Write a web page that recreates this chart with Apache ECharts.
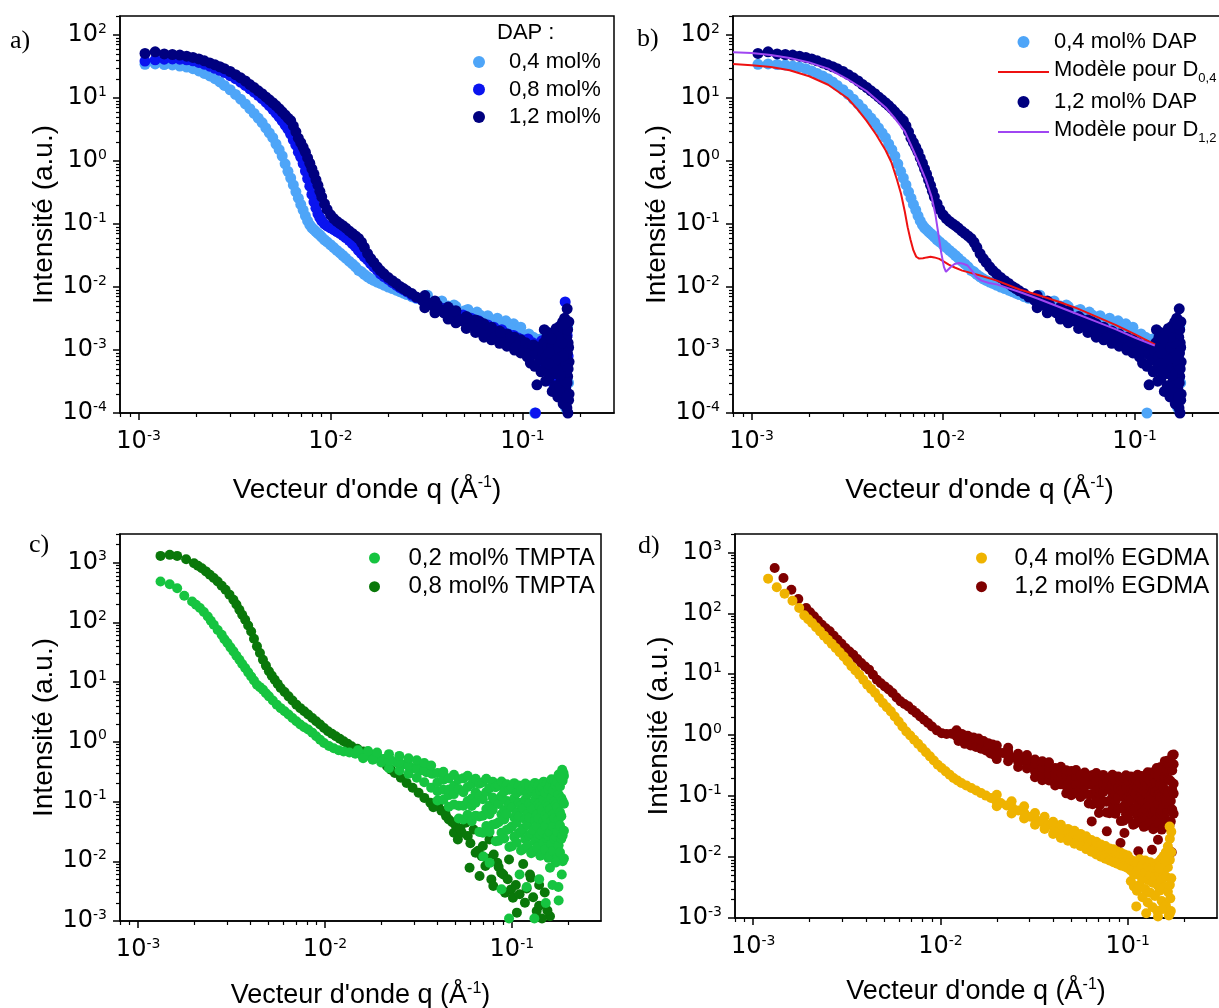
<!DOCTYPE html>
<html><head><meta charset="utf-8">
<script src="https://cdn.jsdelivr.net/npm/echarts@6/dist/echarts.min.js"></script>
<style>html,body{margin:0;padding:0;background:#fff}#c{width:1219px;height:1008px}</style>
</head><body><div id="c"></div>
<script>
// ---------- Panel a / b : DAP ----------
const qA = [1.08e-3,1.22e-3,1.36e-3,1.50e-3,1.64e-3,1.78e-3,1.92e-3,2.06e-3,2.2e-3,2.35e-3,2.5e-3,2.65e-3,2.8e-3,3.0e-3,3.2e-3,3.4e-3,3.6e-3,3.8e-3,4.0e-3,4.2e-3,4.4e-3,4.6e-3,4.8e-3,5.0e-3,5.2e-3,5.4e-3,5.6e-3,5.8e-3,6.0e-3,6.2e-3,6.4e-3,6.6e-3,6.8e-3,7.0e-3,7.2e-3,7.4e-3,7.6e-3,7.8e-3,8.0e-3,8.2e-3,8.4e-3,8.6e-3,8.8e-3,9.0e-3,9.3e-3,9.6e-3,0.0100,0.0104,0.0108,0.0112,0.0116,0.0120,0.0125,0.0130,0.0135,0.0140,0.0145,0.0150,0.0156,0.0162,0.0168,0.0175,0.0182,0.0190,0.0200,0.0210,0.0220,0.0230,0.0240,0.0250,0.0265,0.0280,0.0300,0.0320,0.0340,0.0360,0.0380,0.0400,0.0430,0.0460,0.0500,0.0540,0.0580,0.0620,0.0660,0.0700,0.0750,0.0800,0.0850,0.0900,0.0950,0.1000];
const iA04 = [34.2,34.7,34.0,33.4,32.1,30.9,29.2,26.9,24.5,22.4,20.2,18.0,15.8,13.5,11.4,9.55,8.04,6.76,5.69,4.79,4.07,3.35,2.79,2.34,1.86,1.51,1.20,0.90,0.684,0.537,0.417,0.324,0.257,0.204,0.166,0.135,0.112,0.0966,0.0871,0.0813,0.0759,0.0708,0.0668,0.0617,0.0562,0.0519,0.0468,0.0422,0.038,0.0347,0.0316,0.0288,0.0257,0.0232,0.0209,0.0184,0.0174,0.0158,0.0145,0.0135,0.0127,0.012,0.0114,0.0107,0.01,0.00944,0.00891,0.00841,0.00798,0.00759,0.00703,0.00661,0.00617,0.00575,0.00537,0.00507,0.00479,0.00452,0.00422,0.00394,0.00363,0.00331,0.00309,0.00288,0.00269,0.00257,0.0024,0.00224,0.00211,0.002,0.00191,0.0018];
const iA08 = [38.5,40.3,41.2,41.7,41.2,40.3,38.9,36.7,34.4,32.0,29.5,27.5,25.4,22.6,20.2,17.8,15.8,14.0,12.4,11.0,9.77,8.61,7.59,6.61,5.75,5.01,4.32,3.72,3.2,2.66,2.16,1.78,1.38,1.15,0.912,0.692,0.525,0.398,0.295,0.224,0.178,0.145,0.126,0.112,0.1,0.0933,0.0871,0.0813,0.0759,0.0708,0.0661,0.061,0.055,0.049,0.0437,0.038,0.0339,0.0302,0.0269,0.0234,0.0209,0.0186,0.0162,0.0146,0.0132,0.0117,0.0107,0.00977,0.00912,0.00841,0.00741,0.00676,0.00617,0.00562,0.00525,0.0049,0.00457,0.00427,0.00389,0.00355,0.00324,0.00295,0.00269,0.00251,0.00234,0.00219,0.002,0.00186,0.00174,0.00166,0.00155,0.00145];
const iA12 = [51,54,50,49,48,46,44,41.7,38.9,36,33.6,31.3,29.2,26.3,23.4,20.9,18.6,16.3,14.6,13.0,11.7,10.4,9.33,8.4,7.59,6.76,6.03,5.37,4.79,4.37,3.6,2.9,2.3,1.95,1.65,1.38,1.12,0.92,0.75,0.62,0.5,0.41,0.33,0.27,0.21,0.17,0.14,0.122,0.11,0.101,0.094,0.0865,0.0776,0.0708,0.0646,0.0589,0.0513,0.0427,0.0339,0.0282,0.0245,0.0209,0.0182,0.0162,0.0141,0.0126,0.0114,0.0102,0.00944,0.00871,0.00785,0.00692,0.00617,0.00562,0.00513,0.00468,0.00427,0.00398,0.00355,0.00324,0.00282,0.00257,0.00229,0.00209,0.00191,0.00178,0.00162,0.00148,0.00138,0.00129,0.0012,0.00112];
const noiseA04 = [[0.032,0.0074],[0.038,0.006],[0.044,0.0052],[0.052,0.0044],[0.058,0.004],[0.066,0.0035],[0.074,0.0032],[0.082,0.0029],[0.09,0.0026],[0.098,0.0023],[0.037,0.0057],[0.041,0.005],[0.045,0.0049],[0.05,0.0042],[0.055,0.0038],[0.06,0.0036],[0.065,0.003],[0.07,0.0029],[0.075,0.0027],[0.08,0.0023],[0.086,0.0022],[0.091,0.0019],[0.096,0.0018],[0.102,0.0017],[0.105,0.0014],[0.108,0.0018],[0.111,0.0012],[0.114,0.0016],[0.116,0.0001],[0.118,0.0013],[0.121,0.0009],[0.124,0.0015],[0.127,0.0011],[0.13,0.0007],[0.133,0.0013],[0.136,0.0009],[0.139,0.0011],[0.142,0.00045],[0.145,0.0008],[0.148,0.0012],[0.151,0.00025],[0.154,0.0006],[0.157,0.0014],[0.16,0.00035],[0.163,0.0009],[0.166,0.0018],[0.168,0.00012],[0.17,0.0006],[0.172,0.0024],[0.174,0.0003]];
const noiseA08 = [[0.038,0.0046],[0.043,0.0042],[0.049,0.0036],[0.054,0.0032],[0.059,0.0029],[0.066,0.0025],[0.071,0.0023],[0.078,0.0021],[0.084,0.0018],[0.09,0.0017],[0.095,0.0015],[0.101,0.0014],[0.104,0.0011],[0.107,0.0015],[0.11,0.00085],[0.113,0.0013],[0.116,0.0009],[0.117,0.0001],[0.12,0.0012],[0.123,0.0008],[0.126,0.0014],[0.129,0.0006],[0.132,0.001],[0.135,0.0005],[0.138,0.0013],[0.141,0.0008],[0.144,0.0003],[0.147,0.0011],[0.15,0.0016],[0.153,0.0004],[0.156,0.0009],[0.159,0.0021],[0.162,0.0006],[0.165,0.0013],[0.167,0.0058],[0.169,0.0003],[0.171,0.0017],[0.173,0.0008]];
const noiseA12 = [[0.031,0.0073],[0.031,0.0047],[0.035,0.006],[0.035,0.0039],[0.041,0.0048],[0.041,0.0031],[0.045,0.0042],[0.045,0.0027],[0.051,0.0034],[0.051,0.0022],[0.057,0.003],[0.057,0.0019],[0.063,0.0026],[0.063,0.0016],[0.069,0.0023],[0.069,0.00145],[0.076,0.002],[0.076,0.00128],[0.083,0.0018],[0.083,0.00115],[0.091,0.0016],[0.091,0.001],[0.098,0.00145],[0.098,0.0009],
[0.036,0.0052],[0.039,0.0039],[0.044,0.0041],[0.047,0.0029],[0.052,0.0032],[0.056,0.0024],[0.06,0.0028],[0.064,0.0019],[0.068,0.0022],[0.072,0.0016],[0.077,0.0019],[0.082,0.0013],[0.087,0.0016],[0.092,0.0011],[0.097,0.0013],[0.102,0.00095],[0.104,0.0013],[0.106,0.00078],[0.108,0.0011],[0.11,0.00062],[0.112,0.00098],[0.114,0.0012],[0.116,0.00055],[0.118,0.00085],[0.119,0.00028],[0.121,0.0011],[0.123,0.0007],[0.125,0.00045],[0.127,0.00095],[0.129,0.0013],[0.131,0.00052],[0.133,0.00078],[0.135,0.0011],[0.137,0.00035],[0.139,0.0015],[0.141,0.00065],[0.143,0.00022],[0.145,0.0009],[0.147,0.0019],[0.149,0.00042],[0.151,0.0012],[0.153,0.00018],[0.155,0.0007],[0.157,0.0024],[0.159,0.00032],[0.161,0.001],[0.163,0.00014],[0.165,0.0016],[0.166,0.0032],[0.167,0.00055],[0.168,0.00025],[0.169,0.0021],[0.17,0.00085],[0.171,0.0045],[0.172,0.00038],[0.173,0.0013],[0.174,0.00016],[0.175,0.00065],[0.1745,0.0028],[0.1725,0.0001],[0.1705,0.00012],[0.164,0.0004],[0.16,0.0019],[0.156,0.0012],[0.152,0.00055],[0.146,0.0014],[0.142,0.0011],[0.138,0.0009],[0.134,0.0016],[0.158,0.00075],[0.162,0.0028],[0.168,0.0012],
[0.13,0.0021],[0.132,0.00032],[0.136,0.0019],[0.14,0.0004],[0.144,0.0017],[0.148,0.00027],[0.15,0.0022],[0.154,0.0011],[0.156,0.00026],[0.158,0.0016],[0.16,0.0005],[0.162,0.00021],[0.164,0.0022],[0.165,0.00075],[0.166,0.00033],[0.167,0.0014],[0.168,0.0006],[0.169,0.00045],[0.17,0.0016],[0.171,0.0003],[0.172,0.0021],[0.173,0.0005],[0.174,0.0011],[0.175,0.0002],[0.1715,0.0009],[0.1695,0.00018],[0.1665,0.0026],[0.1635,0.0008],[0.1605,0.0013],[0.1575,0.0004],[0.1535,0.0016],[0.1495,0.0007],[0.1455,0.0005],[0.1415,0.0015],[0.1375,0.0006]];
// model curves (panel b)
const qRed = [8e-4,1e-3,1.26e-3,1.58e-3,2e-3,2.51e-3,3.16e-3,3.55e-3,3.98e-3,4.47e-3,5.01e-3,5.37e-3,5.75e-3,6.03e-3,6.31e-3,6.53e-3,6.76e-3,7.0e-3,7.24e-3,7.5e-3,7.85e-3,8.22e-3,8.6e-3,9.0e-3,9.55e-3,0.01,0.0107,0.0115,0.0126,0.0141,0.0158,0.0191,0.0251,0.0316,0.0398,0.0501,0.0631,0.0794,0.1,0.128];
const iRed = [34.7,33.1,30.9,27.5,22.1,16.2,10,6.76,4.37,2.63,1.48,0.955,0.5,0.302,0.158,0.0891,0.0562,0.038,0.0302,0.0282,0.0285,0.0295,0.0301,0.0295,0.0279,0.0257,0.0226,0.0204,0.0182,0.0166,0.0151,0.0126,0.00912,0.00741,0.00589,0.00457,0.00339,0.00251,0.00178,0.00122];
const qPur = [8e-4,1e-3,1.26e-3,1.58e-3,2e-3,2.51e-3,3.16e-3,3.98e-3,5.01e-3,5.62e-3,6.31e-3,6.92e-3,7.59e-3,8.13e-3,8.71e-3,9.12e-3,9.44e-3,9.77e-3,0.0101,0.01035,0.0106,0.011,0.01148,0.01213,0.01274,0.01343,0.01413,0.01486,0.01585,0.01738,0.01905,0.0251,0.0316,0.0398,0.0501,0.0631,0.0794,0.1,0.1274];
const iPur = [53.1,51.9,47.9,43.2,36.7,29.2,20,12.9,7.08,4.68,2.95,1.58,0.832,0.5,0.269,0.141,0.0708,0.0355,0.0209,0.0174,0.0178,0.0209,0.0232,0.024,0.0234,0.0219,0.0182,0.0145,0.0126,0.0116,0.011,0.00832,0.00646,0.0049,0.00372,0.00282,0.00214,0.00158,0.00117];

// ---------- Panel c : TMPTA ----------
const tmpta08 = [[1.318e-3,1291],[1.476e-3,1343],[1.618e-3,1291],[1.807e-3,1137],[1.991e-3,975],[2.089e-3,885],[2.193e-3,804],[2.307e-3,710],[2.421e-3,622],[2.541e-3,550],[2.667e-3,481],[2.8e-3,410],[2.938e-3,349],[3.083e-3,290],[3.236e-3,238],[3.357e-3,198],[3.483e-3,162],[3.606e-3,134],[3.741e-3,110],[3.882e-3,88],[4.027e-3,70],[4.169e-3,53],[4.325e-3,39.5],[4.487e-3,30.5],[4.656e-3,23.6],[4.83e-3,18.8],[5.012e-3,15.1],[5.188e-3,12.8],[5.383e-3,10.9],[5.585e-3,9.3],[5.794e-3,7.94],[6.081e-3,6.8],[6.383e-3,5.75],[6.699e-3,4.9],[7.031e-3,4.18],[7.379e-3,3.65],[7.745e-3,3.24],[8.128e-3,2.85],[8.551e-3,2.5],[8.974e-3,2.2],[9.419e-3,1.94],[9.886e-3,1.7],[0.01038,1.5],[0.01089,1.36],[0.01143,1.24],[0.012,1.12],[0.01259,1.02],[0.01321,0.93],[0.01387,0.84],[0.01489,0.76],[0.01603,0.69],[0.01726,0.63],[0.01858,0.57],[0.01995,0.48],[0.02148,0.39],[0.02254,0.34],[0.02366,0.30],[0.02547,0.25],[0.02735,0.205],[0.02944,0.17],[0.0317,0.14],[0.03404,0.115],[0.03664,0.095]];
const tmpta08Tail = [[0.0404,0.0836],[0.0445,0.0569],[0.049,0.0299],[0.0514,0.0232],[0.0566,0.044],[0.0581,0.0264],[0.0594,0.00778],[0.0625,0.034],[0.064,0.0139],[0.0672,0.00565],[0.0689,0.0122],[0.0722,0.0083],[0.0759,0.0232],[0.0777,0.00497],[0.0796,0.00385],[0.0836,0.00944],[0.0877,0.00643],[0.092,0.00298],[0.0966,0.0107],[0.099,0.00338],[0.1014,0.00245],[0.1064,0.00138],[0.1175,0.00203],[0.1262,0.0053],[0.1358,0.00147],[0.042,0.07],[0.046,0.05],[0.05,0.04],[0.054,0.03],[0.06,0.02],[0.066,0.015],[0.07,0.018],[0.074,0.011],[0.08,0.013],[0.085,0.008],[0.09,0.006],[0.095,0.005],[0.105,0.004],[0.11,0.0028],[0.12,0.0035],[0.13,0.0025],[0.14,0.0018],[0.15,0.003],[0.16,0.0012],[0.115,0.009],[0.125,0.006],[0.14,0.004],[0.155,0.0015],[0.145,0.0011],[0.038,0.08],[0.044,0.065],[0.048,0.045],[0.053,0.035]];
const tmpta02 = [[1.318e-3,481],[1.476e-3,434],[1.618e-3,372],[1.766e-3,277],[1.945e-3,223],[2.042e-3,197],[2.143e-3,173],[2.249e-3,148],[2.36e-3,125],[2.449e-3,106],[2.541e-3,90.8],[2.667e-3,74],[2.8e-3,61.8],[2.897e-3,52],[3.006e-3,44.9],[3.119e-3,38],[3.236e-3,32.6],[3.357e-3,27.5],[3.483e-3,23.6],[3.606e-3,20],[3.741e-3,17.1],[3.882e-3,14.5],[4.027e-3,12.4],[4.169e-3,10.6],[4.325e-3,9.0],[4.487e-3,8.2],[4.656e-3,7.45],[4.83e-3,6.5],[5.012e-3,5.75],[5.26e-3,4.9],[5.521e-3,4.18],[5.794e-3,3.65],[6.081e-3,3.24],[6.383e-3,2.85],[6.699e-3,2.5],[7.031e-3,2.2],[7.379e-3,1.94],[7.745e-3,1.75],[8.128e-3,1.6],[8.551e-3,1.42],[8.974e-3,1.24],[9.419e-3,1.08],[9.886e-3,0.95],[0.0105,0.85],[0.01114,0.78],[0.01183,0.72],[0.01259,0.69],[0.01352,0.66],[0.01455,0.63],[0.01567,0.61],[0.01687,0.59],[0.01811,0.56],[0.0195,0.54],[0.02099,0.52],[0.02254,0.49],[0.02427,0.45],[0.02606,0.415],[0.02805,0.39],[0.03013,0.36],[0.03243,0.33],[0.03491,0.31],[0.0375,0.29]];
const tmpta02Cloud = [[0.015,0.72],[0.016,0.53],[0.017,0.7],[0.018,0.5],[0.019,0.66],[0.02,0.45],[0.022,0.36],[0.022,0.48],[0.022,0.62],[0.025,0.33],[0.025,0.45],[0.025,0.58],[0.028,0.29],[0.028,0.4],[0.028,0.53],[0.031,0.25],[0.031,0.37],[0.031,0.49],[0.034,0.21],[0.034,0.33],[0.034,0.44],[0.037,0.17],[0.037,0.3],[0.037,0.4],
[0.04,0.104],[0.04,0.149],[0.04,0.21],[0.04,0.3],[0.043,0.107],[0.043,0.158],[0.043,0.232],[0.043,0.315],[0.046,0.082],[0.046,0.128],[0.046,0.159],[0.046,0.244],[0.049,0.089],[0.049,0.133],[0.049,0.184],[0.049,0.28],[0.052,0.052],[0.052,0.085],[0.052,0.162],[0.052,0.236],[0.055,0.05],[0.055,0.085],[0.055,0.143],[0.055,0.244],[0.058,0.06],[0.058,0.102],[0.058,0.175],[0.058,0.27],[0.061,0.047],[0.061,0.084],[0.061,0.112],[0.061,0.196],[0.064,0.058],[0.064,0.095],[0.064,0.143],[0.064,0.241],[0.067,0.031],[0.067,0.056],[0.067,0.125],[0.067,0.199],[0.07,0.03],[0.07,0.058],[0.07,0.109],[0.07,0.211],[0.073,0.039],[0.073,0.075],[0.073,0.144],[0.073,0.24],[0.076,0.031],[0.076,0.061],[0.076,0.086],[0.076,0.167],[0.079,0.041],[0.079,0.073],[0.079,0.117],[0.079,0.215],[0.082,0.0217],[0.082,0.042],[0.082,0.103],[0.082,0.174],[0.085,0.022],[0.085,0.045],[0.085,0.091],[0.085,0.187],[0.088,0.03],[0.088,0.061],[0.088,0.124],[0.088,0.216],[0.091,0.024],[0.091,0.05],[0.091,0.072],[0.091,0.147],[0.094,0.0335],[0.094,0.062],[0.094,0.102],[0.094,0.195],[0.097,0.0173],[0.097,0.035],[0.097,0.09],[0.097,0.157],[0.1,0.0179],[0.1,0.038],[0.1,0.08],[0.1,0.171],[0.103,0.0257],[0.103,0.054],[0.103,0.113],[0.103,0.203],[0.106,0.0205],[0.106,0.044],[0.106,0.065],[0.106,0.137],[0.109,0.0296],[0.109,0.0565],[0.109,0.095],[0.109,0.186],[0.112,0.0151],[0.112,0.0315],[0.112,0.085],[0.112,0.151],[0.115,0.016],[0.115,0.0352],[0.115,0.0755],[0.115,0.166],[0.118,0.0233],[0.118,0.0502],[0.118,0.108],[0.118,0.2],[0.121,0.0183],[0.121,0.041],[0.121,0.061],[0.121,0.133],[0.124,0.0271],[0.124,0.0533],[0.124,0.0916],[0.124,0.185],[0.127,0.0136],[0.127,0.0291],[0.127,0.082],[0.127,0.15],[0.13,0.0145],[0.13,0.033],[0.13,0.0734],[0.13,0.167],[0.133,0.0216],[0.133,0.0483],[0.133,0.108],[0.133,0.205],[0.136,0.017],[0.136,0.0394],[0.136,0.06],[0.136,0.135],[0.139,0.0256],[0.139,0.052],[0.139,0.0914],[0.139,0.19],[0.142,0.0124],[0.142,0.0277],[0.142,0.0817],[0.142,0.153],[0.145,0.0133],[0.145,0.0316],[0.145,0.073],[0.145,0.173],[0.148,0.0203],[0.148,0.0473],[0.148,0.11],[0.148,0.215],[0.151,0.0158],[0.151,0.0384],[0.151,0.0596],[0.151,0.14],[0.154,0.0244],[0.154,0.0514],[0.154,0.093],[0.154,0.202],[0.157,0.0114],[0.157,0.0265],[0.157,0.083],[0.157,0.161],[0.16,0.0123],[0.16,0.0306],[0.16,0.0738],[0.16,0.184],[0.163,0.0192],[0.163,0.0472],[0.163,0.116],[0.163,0.236],[0.166,0.0149],[0.166,0.0382],[0.166,0.0612],[0.166,0.153],[0.169,0.0237],[0.169,0.0528],[0.169,0.1],[0.169,0.231],[0.172,0.0105],[0.172,0.0261],[0.172,0.09],[0.172,0.185],[0.175,0.0114],[0.175,0.0307],[0.175,0.0804],[0.175,0.217],[0.178,0.0185],[0.178,0.0493],[0.178,0.131],[0.178,0.284],[0.181,0.0141],[0.181,0.0395],[0.181,0.0659],[0.181,0.178],[0.184,0.0238],[0.184,0.0569],[0.184,0.114],[0.184,0.282],[0.187,0.01],[0.187,0.0269],[0.187,0.102],[0.187,0.222],[0.19,0.0111],[0.19,0.0324],[0.19,0.0914],[0.19,0.267],[0.186,0.34],[0.189,0.3],[0.183,0.25],
[0.0704,0.012],[0.076,0.0094],[0.088,0.0034],[0.0966,0.0011],[0.12,0.0037],[0.132,0.0011],[0.152,0.002],[0.16,0.0078],[0.172,0.0095],[0.1775,0.0037],[0.178,0.0022],[0.11,0.006],[0.14,0.005],[0.165,0.004],[0.185,0.006]];

// ---------- Panel d : EGDMA ----------
const egdma04 = [[1.202e-3,370],[1.337e-3,267],[1.472e-3,210],[1.622e-3,161],[1.762e-3,122],[1.875e-3,92.5],[1.968e-3,80],[2.065e-3,69.2],[2.168e-3,59],[2.275e-3,50.5],[2.388e-3,43],[2.506e-3,36.9],[2.63e-3,31.5],[2.761e-3,26.9],[2.897e-3,23],[3.041e-3,19.6],[3.192e-3,16.3],[3.35e-3,13.5],[3.516e-3,11.5],[3.69e-3,9.82],[3.873e-3,8.1],[4.064e-3,6.73],[4.266e-3,5.75],[4.477e-3,4.92],[4.699e-3,4.05],[4.932e-3,3.37],[5.176e-3,2.88],[5.433e-3,2.46],[5.702e-3,2.03],[5.984e-3,1.68],[6.266e-3,1.39],[6.577e-3,1.15],[6.902e-3,0.99],[7.244e-3,0.843],[7.603e-3,0.72],[7.98e-3,0.615],[8.375e-3,0.525],[8.79e-3,0.449],[9.226e-3,0.383],[9.683e-3,0.327],[0.01016,0.29],[0.01067,0.255],[0.0112,0.225],[0.01175,0.198],[0.01233,0.18],[0.01294,0.164],[0.01374,0.15],[0.01462,0.136],[0.01552,0.124],[0.01648,0.112],[0.0175,0.102],[0.01862,0.0929],[0.01977,0.085],[0.02099,0.077],[0.0226,0.07],[0.02427,0.0637],[0.02606,0.058],[0.02805,0.0527],[0.0302,0.046],[0.03243,0.041],[0.03491,0.0375],[0.0375,0.034],[0.04036,0.03],[0.04335,0.0264],[0.04667,0.024],[0.05012,0.0218],[0.05395,0.02],[0.05794,0.0181],[0.06237,0.016],[0.06699,0.0141],[0.07211,0.0128],[0.07745,0.0116],[0.08318,0.0106],[0.08954,0.0096],[0.09616,0.0088],[0.1035,0.008],[0.1112,0.0071],[0.1197,0.0062],[0.1285,0.0058],[0.1384,0.0065],[0.1452,0.0075],[0.1524,0.009],[0.16,0.0116],[0.1675,0.0318]];
const egdma04Noise = [[0.02,0.105],[0.02,0.068],[0.024,0.082],[0.024,0.052],[0.028,0.068],[0.028,0.043],[0.032,0.053],[0.032,0.034],[0.036,0.046],[0.036,0.029],[0.04,0.038],[0.04,0.024],[0.044,0.034],[0.044,0.0205],[0.048,0.029],[0.048,0.0185],[0.052,0.027],[0.052,0.0165],[0.056,0.024],[0.056,0.0152],[0.06,0.022],[0.06,0.0135],[0.064,0.019],[0.064,0.0122],[0.068,0.0178],[0.068,0.011],[0.072,0.016],[0.072,0.0101],[0.076,0.0152],[0.076,0.0094],[0.08,0.0138],[0.08,0.0088],[0.084,0.0134],[0.084,0.0082],[0.088,0.0123],[0.088,0.0078],[0.092,0.0118],[0.092,0.0073],[0.096,0.011],[0.096,0.007],[0.1,0.0106],[0.1,0.0066],
[0.104,0.009],[0.104,0.006],[0.104,0.004],[0.108,0.0085],[0.108,0.0052],[0.108,0.0033],[0.112,0.008],[0.112,0.0058],[0.112,0.0028],[0.116,0.0092],[0.116,0.005],[0.116,0.0035],[0.12,0.0075],[0.12,0.0045],[0.12,0.0022],[0.124,0.0088],[0.124,0.0055],[0.124,0.003],[0.128,0.007],[0.128,0.0042],[0.128,0.0018],[0.132,0.0082],[0.132,0.005],[0.132,0.0026],[0.136,0.0068],[0.136,0.0038],[0.136,0.0015],[0.14,0.0078],[0.14,0.0047],[0.14,0.0023],[0.144,0.0072],[0.144,0.0035],[0.144,0.0013],[0.148,0.0085],[0.148,0.0052],[0.148,0.0028],[0.152,0.0095],[0.152,0.0042],[0.152,0.0019],[0.156,0.0105],[0.156,0.006],[0.156,0.0032],[0.16,0.012],[0.16,0.0048],[0.16,0.0016],[0.164,0.015],[0.164,0.0068],[0.164,0.0027],[0.168,0.02],[0.168,0.009],[0.168,0.0035],[0.168,0.0012],[0.171,0.026],[0.171,0.012],[0.171,0.0045],
[0.1112,0.00155],[0.1256,0.0012],[0.1452,0.00106],[0.153,0.0014],[0.166,0.0011],[0.17,0.0013],[0.169,0.0021],[0.165,0.011],[0.159,0.0085],[0.147,0.0065]];
const egdma12 = [[1.303e-3,553],[1.452e-3,379],[1.6e-3,244],[1.742e-3,171],[1.919e-3,122],[2.014e-3,104],[2.113e-3,89],[2.218e-3,76],[2.328e-3,65],[2.443e-3,57],[2.564e-3,50.6],[2.692e-3,43],[2.825e-3,36.9],[2.965e-3,31.5],[3.112e-3,26.9],[3.266e-3,23.5],[3.428e-3,20.9],[3.597e-3,17.8],[3.776e-3,15.3],[3.963e-3,13.4],[4.159e-3,11.9],[4.365e-3,9.8],[4.581e-3,8.13],[4.808e-3,7.1],[5.047e-3,6.32],[5.297e-3,5.6],[5.559e-3,4.92],[5.834e-3,4.15],[6.124e-3,3.59],[6.427e-3,3.25],[6.745e-3,2.97],[7.079e-3,2.6],[7.43e-3,2.31],[7.798e-3,2.02],[8.185e-3,1.79],[8.59e-3,1.58],[9.016e-3,1.39],[9.572e-3,1.2],[0.01016,1.08],[0.01079,1.05],[0.01148,1.06],[0.01219,0.96],[0.01294,0.897],[0.0139,0.85],[0.01496,0.79],[0.01607,0.72],[0.0173,0.655],[0.01862,0.6],[0.02,0.542],[0.02153,0.51],[0.02312,0.478],[0.02489,0.43],[0.02673,0.395],[0.02877,0.36],[0.0309,0.327],[0.03327,0.3],[0.03573,0.271],[0.03846,0.255],[0.0413,0.239],[0.04446,0.218],[0.04775,0.198],[0.05129,0.186],[0.05521,0.175],[0.05943,0.164],[0.06383,0.154],[0.06871,0.149],[0.07379,0.145],[0.07943,0.14],[0.08531,0.136],[0.09183,0.13],[0.09863,0.127],[0.1059,0.13],[0.114,0.14],[0.1225,0.15],[0.1318,0.186],[0.1416,0.23],[0.1524,0.3],[0.1637,0.38],[0.1762,0.48]];
const egdma12Noise = [[0.0122,1.2],[0.0125,0.8],[0.013,1.05],[0.0135,0.72],[0.014,0.98],[0.0145,0.68],[0.015,0.92],[0.0155,0.64],[0.016,0.88],[0.0165,0.6],[0.017,0.8],[0.0175,0.56],[0.018,0.74],[0.0185,0.5],[0.019,0.7],[0.0195,0.47],
[0.02,0.405],[0.02,0.481],[0.02,0.569],[0.02,0.676],[0.023,0.375],[0.023,0.449],[0.023,0.538],[0.023,0.621],[0.026,0.301],[0.026,0.369],[0.026,0.408],[0.026,0.495],[0.029,0.284],[0.029,0.34],[0.029,0.393],[0.029,0.473],[0.032,0.204],[0.032,0.253],[0.032,0.338],[0.032,0.4],[0.035,0.182],[0.035,0.232],[0.035,0.293],[0.035,0.373],[0.038,0.18],[0.038,0.231],[0.038,0.295],[0.038,0.358],[0.041,0.149],[0.041,0.195],[0.041,0.223],[0.041,0.288],[0.044,0.156],[0.044,0.197],[0.044,0.238],[0.044,0.303],[0.047,0.111],[0.047,0.146],[0.047,0.213],[0.047,0.265],[0.05,0.103],[0.05,0.141],[0.05,0.19],[0.05,0.259],[0.053,0.113],[0.053,0.155],[0.053,0.21],[0.053,0.269],[0.056,0.097],[0.056,0.136],[0.056,0.16],[0.056,0.22],[0.059,0.108],[0.059,0.144],[0.059,0.18],[0.059,0.243],[0.062,0.076],[0.062,0.106],[0.062,0.166],[0.062,0.216],[0.065,0.0735],[0.065,0.107],[0.065,0.153],[0.065,0.222],[0.068,0.0836],[0.068,0.122],[0.068,0.177],[0.068,0.239],[0.071,0.0706],[0.071,0.106],[0.071,0.13],[0.071,0.192],[0.074,0.0818],[0.074,0.116],[0.074,0.154],[0.074,0.223],[0.077,0.0537],[0.077,0.0809],[0.077,0.141],[0.077,0.195],[0.08,0.0525],[0.08,0.0828],[0.08,0.128],[0.08,0.203],[0.083,0.0622],[0.083,0.0984],[0.083,0.156],[0.083,0.224],[0.086,0.0514],[0.086,0.0843],[0.086,0.108],[0.086,0.174],[0.089,0.0624],[0.089,0.0955],[0.089,0.135],[0.089,0.21],[0.092,0.0389],[0.092,0.0635],[0.092,0.124],[0.092,0.182],[0.095,0.0396],[0.095,0.0678],[0.095,0.114],[0.095,0.194],[0.098,0.0504],[0.098,0.0853],[0.098,0.145],[0.098,0.22],[0.101,0.0424],[0.101,0.074],[0.101,0.0975],[0.101,0.167],[0.104,0.0553],[0.104,0.0883],[0.104,0.129],[0.104,0.209],[0.107,0.034],[0.107,0.0578],[0.107,0.119],[0.107,0.18],[0.11,0.0355],[0.11,0.063],[0.11,0.11],[0.11,0.195],[0.113,0.0466],[0.113,0.0817],[0.113,0.143],[0.113,0.224],[0.116,0.0394],[0.116,0.0708],[0.116,0.0948],[0.116,0.167],[0.119,0.0522],[0.119,0.0857],[0.119,0.128],[0.119,0.214],[0.122,0.0313],[0.122,0.0552],[0.122,0.12],[0.122,0.187],[0.125,0.0327],[0.125,0.061],[0.125,0.111],[0.125,0.207],[0.128,0.0443],[0.128,0.0818],[0.128,0.151],[0.128,0.246],[0.131,0.0368],[0.131,0.0705],[0.131,0.0977],[0.131,0.183],[0.134,0.0507],[0.134,0.0881],[0.134,0.137],[0.134,0.244],[0.137,0.0286],[0.137,0.0538],[0.137,0.127],[0.137,0.208],[0.14,0.0302],[0.14,0.0603],[0.14,0.117],[0.14,0.234],[0.143,0.043],[0.143,0.0851],[0.143,0.169],[0.143,0.29],[0.146,0.0358],[0.146,0.0738],[0.146,0.106],[0.146,0.213],[0.149,0.0521],[0.149,0.0962],[0.149,0.157],[0.149,0.298],[0.152,0.0282],[0.152,0.0569],[0.152,0.148],[0.152,0.256],[0.155,0.0304],[0.155,0.0656],[0.155,0.138],[0.155,0.297],[0.158,0.0451],[0.158,0.0962],[0.158,0.206],[0.158,0.375],[0.161,0.0376],[0.161,0.083],[0.161,0.123],[0.161,0.265],[0.164,0.0594],[0.164,0.114],[0.164,0.193],[0.164,0.381],[0.167,0.0331],[0.167,0.0685],[0.167,0.184],[0.167,0.325],[0.17,0.0384],[0.17,0.083],[0.17,0.175],[0.17,0.378],[0.173,0.0601],[0.173,0.126],[0.173,0.264],[0.173,0.474],[0.176,0.0513],[0.176,0.11],[0.176,0.16],[0.176,0.334],
[0.0643,0.0385],[0.0774,0.0264],[0.0916,0.017],[0.0961,0.0248],[0.114,0.0124],[0.1349,0.0132],[0.1452,0.0192],[0.16,0.0103],[0.172,0.012],[0.0703,0.0527]];

// ---------- axis ticks ----------
const xMajor = [1e-3, 1e-2, 1e-1];
const yMajorAB = [1e-4, 1e-3, 1e-2, 1e-1, 1, 10, 100];
const yMajorCD = [1e-3, 1e-2, 1e-1, 1, 10, 100, 1000];

// ---------- rendering ----------
const SANS = "'Liberation Sans', Arial, sans-serif";
const TICKF = "'DejaVu Sans', sans-serif";
function minorTicks(lo, hi, mn, mx) {
  const out = [];
  for (let e = lo; e <= hi; e++) for (let m = 2; m <= 9; m++) {
    const v = m * Math.pow(10, e);
    if (v >= mn && v <= mx) out.push(v);
  }
  return out;
}
const zip = (qs, is) => qs.map((q, k) => [q, is[k]]);
const supLabel = v => '{b|10}{s|' + Math.round(Math.log10(v)) + '}';
const labelRich = {
  b: { fontSize: 24, fontFamily: TICKF, color: '#000' },
  s: { fontSize: 14, fontFamily: TICKF, color: '#000', padding: [0, 0, 12, 0] }
};
const titleRich = (fs) => ({
  t: { fontSize: fs, fontFamily: SANS, color: '#000' },
  s: { fontSize: Math.round(fs * 0.58), fontFamily: SANS, color: '#000', padding: [0, 0, 14, 0] }
});
const XNAME = "{t|Vecteur d'onde q (Å}{s|-1}{t|)}";

const grids = [
  { left: 120, top: 16, width: 494, height: 397 },
  { left: 733, top: 16, width: 493, height: 397 },
  { left: 120, top: 534, width: 481, height: 387 },
  { left: 735, top: 534, width: 482, height: 384 }
].map(g => Object.assign(g, { show: true, borderColor: '#000', borderWidth: 1.5, backgroundColor: 'transparent', containLabel: false, outerBoundsMode: 'none' }));

const xMin = 8e-4, xMax = 0.3;
const yRange = [[1e-4, 200], [1e-4, 200], [1e-3, 3000], [1e-3, 2000]];
const yMajors = [yMajorAB, yMajorAB, yMajorCD, yMajorCD];
const xTitleSize = [28, 28, 27, 27];
const xNameGap = [62, 62, 60, 59];

const xAxes = [], yAxes = [];
for (let p = 0; p < 4; p++) {
  xAxes.push({
    type: 'log', gridIndex: p, min: xMin, max: xMax, position: 'bottom',
    axisLine: { show: true, onZero: false, lineStyle: { color: '#000', width: 1.5 } },
    axisTick: { show: true, length: 7, customValues: xMajor, lineStyle: { color: '#000', width: 1.5 } },
    axisLabel: { show: true, customValues: xMajor, formatter: supLabel, margin: 16, rich: labelRich, color: '#000' },
    splitLine: { show: false }, minorTick: { show: false },
    name: XNAME, nameLocation: 'middle', nameGap: xNameGap[p],
    nameTextStyle: { rich: titleRich(xTitleSize[p]), color: '#000' }
  });
  yAxes.push({
    type: 'log', gridIndex: p, min: yRange[p][0], max: yRange[p][1], position: 'left',
    axisLine: { show: true, onZero: false, lineStyle: { color: '#000', width: 1.5 } },
    axisTick: { show: true, length: 7, customValues: yMajors[p], lineStyle: { color: '#000', width: 1.5 } },
    axisLabel: { show: true, customValues: yMajors[p], formatter: supLabel, margin: 13, rich: labelRich, color: '#000' },
    splitLine: { show: false }, minorTick: { show: false },
    name: 'Intensité (a.u.)', nameLocation: 'middle', nameGap: 52,
    nameTextStyle: { fontSize: 28, fontFamily: SANS, color: '#000' }
  });
}
for (let p = 0; p < 4; p++) {
  xAxes.push({
    type: 'log', gridIndex: p, min: xMin, max: xMax, position: 'bottom',
    axisLine: { show: false, onZero: false }, axisLabel: { show: false }, splitLine: { show: false },
    axisTick: { show: true, length: 4, customValues: minorTicks(-4, -1, xMin, xMax), lineStyle: { color: '#000', width: 1.2 } }
  });
  const lo = Math.round(Math.log10(yRange[p][0])), hi = Math.floor(Math.log10(yRange[p][1]));
  yAxes.push({
    type: 'log', gridIndex: p, min: yRange[p][0], max: yRange[p][1], position: 'left',
    axisLine: { show: false, onZero: false }, axisLabel: { show: false }, splitLine: { show: false },
    axisTick: { show: true, length: 4, customValues: minorTicks(lo, hi, yRange[p][0], yRange[p][1]), lineStyle: { color: '#000', width: 1.2 } }
  });
}

const C = { lb: '#4ea5f8', mb: '#0a14ef', nv: '#00007f', red: '#ee1111', pur: '#a046f2',
            lg: '#16c440', dg: '#0a780a', yl: '#efb300', dr: '#7f0000' };

function sc(name, p, data, color, size) {
  return { type: 'scatter', name, xAxisIndex: p, yAxisIndex: p, data, symbol: 'circle', symbolSize: size,
           itemStyle: { color, opacity: 1 }, emphasis: { disabled: true }, silent: true, clip: true, animation: false };
}
function ln(name, p, data, color) {
  return { type: 'line', name, xAxisIndex: p, yAxisIndex: p, data, symbol: 'none', showSymbol: false,
           lineStyle: { color, width: 2 }, itemStyle: { color }, emphasis: { disabled: true }, silent: true, clip: true, z: 3, animation: false };
}

const series = [
  sc('0,4 mol%', 0, zip(qA, iA04).concat(noiseA04), C.lb, 11),
  sc('0,8 mol%', 0, zip(qA, iA08).concat(noiseA08), C.mb, 11),
  sc('1,2 mol%', 0, zip(qA, iA12).concat(noiseA12), C.nv, 11),
  sc('0,4 mol% DAP', 1, zip(qA, iA04).concat(noiseA04), C.lb, 11),
  sc('1,2 mol% DAP', 1, zip(qA, iA12).concat(noiseA12), C.nv, 11),
  ln('Modèle pour D0,4', 1, zip(qRed, iRed), C.red),
  ln('Modèle pour D1,2', 1, zip(qPur, iPur), C.pur),
  sc('0,8 mol% TMPTA', 2, tmpta08.concat(tmpta08Tail), C.dg, 10),
  sc('0,2 mol% TMPTA', 2, tmpta02.concat(tmpta02Cloud), C.lg, 10),
  sc('1,2 mol% EGDMA', 3, egdma12.concat(egdma12Noise), C.dr, 10),
  sc('0,4 mol% EGDMA', 3, egdma04.concat(egdma04Noise), C.yl, 10)
];

const lineIcon = 'path://M0,0L100,0L100,4L0,4Z';
const legendBase = { orient: 'vertical', selectedMode: false, padding: 0, textStyle: { fontSize: 22, fontFamily: SANS, color: '#000' } };
const legends = [
  Object.assign({}, legendBase, { data: ['0,4 mol%', '0,8 mol%', '1,2 mol%'], left: 473, top: 51, itemWidth: 50, itemHeight: 12, itemGap: 5.5 }),
  Object.assign({}, legendBase, {
    data: [{ name: '0,4 mol% DAP' }, { name: 'Modèle pour D0,4', icon: lineIcon }, { name: '1,2 mol% DAP' }, { name: 'Modèle pour D1,2', icon: lineIcon }],
    left: 998, top: 31, itemWidth: 51, itemHeight: 12, itemGap: 6,
    formatter: n => n.indexOf('Modèle') === 0 ? '{m|Modèle pour D}{u|' + n.slice(13) + '}' : '{p|' + n + '}',
    textStyle: { fontSize: 22, fontFamily: SANS, color: '#000', rich: {
      m: { fontSize: 22, fontFamily: SANS, color: '#000', verticalAlign: 'top' },
      u: { fontSize: 13, fontFamily: SANS, color: '#000', verticalAlign: 'top', padding: [13, 0, 0, 0] },
      p: { fontSize: 22, fontFamily: SANS, color: '#000' } } }
  }),
  Object.assign({}, legendBase, { data: ['0,2 mol% TMPTA', '0,8 mol% TMPTA'], left: 369, top: 546, itemWidth: 58, itemHeight: 11, itemGap: 4.7,
    textStyle: { fontSize: 24, fontFamily: SANS, color: '#000' } }),
  Object.assign({}, legendBase, { data: ['0,4 mol% EGDMA', '1,2 mol% EGDMA'], left: 976, top: 546, itemWidth: 56, itemHeight: 11, itemGap: 4.7,
    textStyle: { fontSize: 24, fontFamily: SANS, color: '#000' } })
];

const SERIF = "26px 'Liberation Serif', 'Times New Roman', serif";
const graphic = [
  { type: 'text', left: 10, top: 28, style: { text: 'a)', font: SERIF, fill: '#000' } },
  { type: 'text', left: 637, top: 26, style: { text: 'b)', font: SERIF, fill: '#000' } },
  { type: 'text', left: 29, top: 532, style: { text: 'c)', font: SERIF, fill: '#000' } },
  { type: 'text', left: 638, top: 533, style: { text: 'd)', font: SERIF, fill: '#000' } },
  { type: 'text', left: 497, top: 22, style: { text: 'DAP :', font: "22px 'Liberation Sans', Arial, sans-serif", fill: '#000' } }
];

const chart = echarts.init(document.getElementById('c'), null, { renderer: 'canvas', width: 1219, height: 1008 });
chart.setOption({
  animation: false,
  backgroundColor: '#fff',
  textStyle: { fontFamily: SANS, color: '#000' },
  grid: grids, xAxis: xAxes, yAxis: yAxes, legend: legends, series, graphic
});
</script></body></html>
